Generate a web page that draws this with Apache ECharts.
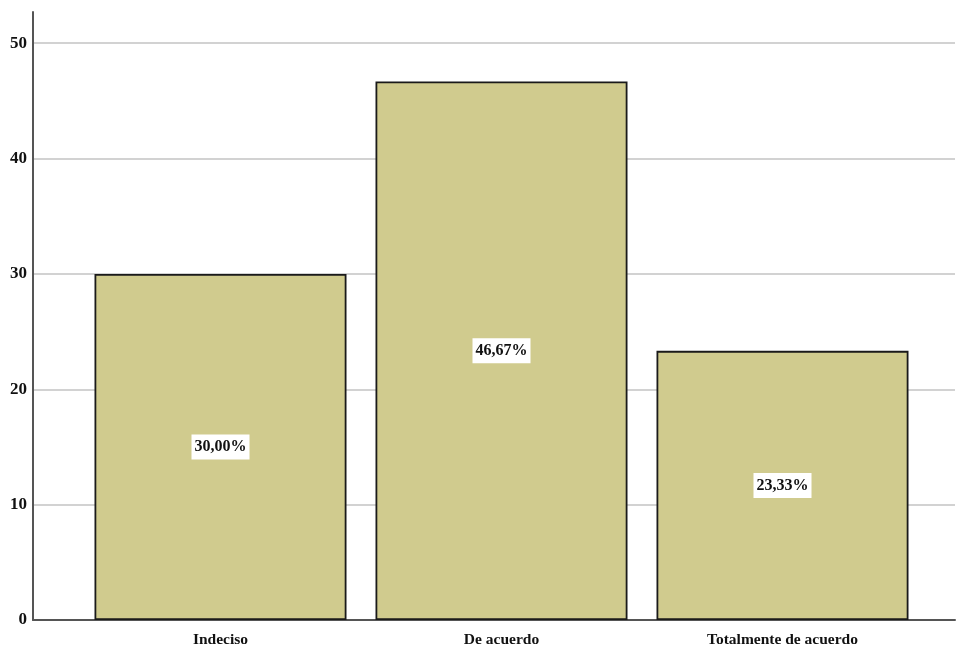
<!DOCTYPE html>
<html>
<head>
<meta charset="utf-8">
<script src="https://cdn.jsdelivr.net/npm/echarts@6/dist/echarts.min.js"></script>
<style>
  html, body { margin: 0; padding: 0; background: #fff; }
  #chart { width: 956px; height: 650px; }
</style>
</head>
<body>
<div id="chart"></div>
<script>
// Response categories and their percentage of respondents
const categories = ['Indeciso', 'De acuerdo', 'Totalmente de acuerdo'];
const percentages = [30.00, 46.67, 23.33];
const yTicks = [0, 10, 20, 30, 40, 50];

const fontFamily = '"Liberation Serif", "Times New Roman", serif';
const yMax = 52.7;
const tickMax = yTicks[yTicks.length - 1];
const tickStep = yTicks[1] - yTicks[0];

const plotTop = 12, plotBottom = 30;
const plotHeight = 650 - plotTop - plotBottom;
// top of the tick band, so the last tick sits at its own value
const tickTop = plotTop + plotHeight * (1 - tickMax / yMax);

const chart = echarts.init(document.getElementById('chart'));
chart.setOption({
  animation: false,
  grid: [
    // outer frame: axis lines
    { left: 33, right: 1, top: plotTop, bottom: plotBottom },
    // inner band holding the bars
    { left: 80, right: 33, top: plotTop, bottom: plotBottom },
    // tick band: labels and gridlines
    { left: 33, right: 1, top: tickTop, bottom: plotBottom }
  ],
  xAxis: [
    {
      gridIndex: 0, type: 'value', min: 0, max: 1,
      axisLine: { show: true, onZero: false, lineStyle: { color: '#555', width: 2 } },
      axisTick: { show: false }, axisLabel: { show: false }, splitLine: { show: false }
    },
    {
      gridIndex: 1, type: 'category', data: categories,
      axisLine: { show: false }, axisTick: { show: false },
      axisLabel: { color: '#111', fontFamily, fontWeight: 'bold', fontSize: 15.5, margin: 12 }
    },
    {
      gridIndex: 2, type: 'value', min: 0, max: 1, show: false
    }
  ],
  yAxis: [
    {
      gridIndex: 0, type: 'value', min: 0, max: yMax,
      axisLine: { show: true, lineStyle: { color: '#555', width: 2 } },
      axisTick: { show: false }, axisLabel: { show: false }, splitLine: { show: false }
    },
    {
      gridIndex: 1, type: 'value', min: 0, max: yMax,
      show: false, splitLine: { show: false }
    },
    {
      gridIndex: 2, type: 'value', min: yTicks[0], max: tickMax, interval: tickStep,
      axisLine: { show: false }, axisTick: { show: false },
      axisLabel: { color: '#111', fontFamily, fontWeight: 'bold', fontSize: 17, margin: 6 },
      splitLine: { show: true, lineStyle: { color: '#d2d2d2', width: 2 } }
    }
  ],
  series: [{
    type: 'bar',
    xAxisIndex: 1, yAxisIndex: 1,
    data: percentages,
    barWidth: 252,
    z: 3,
    itemStyle: { color: '#d0cb8e', borderColor: '#1a1a1a', borderWidth: 1.8 },
    label: {
      show: true, position: 'inside',
      formatter: p => p.value.toFixed(2).replace('.', ',') + '%',
      color: '#111', fontFamily, fontWeight: 'bold', fontSize: 16,
      backgroundColor: '#fff', padding: [5, 3, 4, 3]
    }
  }]
});
</script>
</body>
</html>
